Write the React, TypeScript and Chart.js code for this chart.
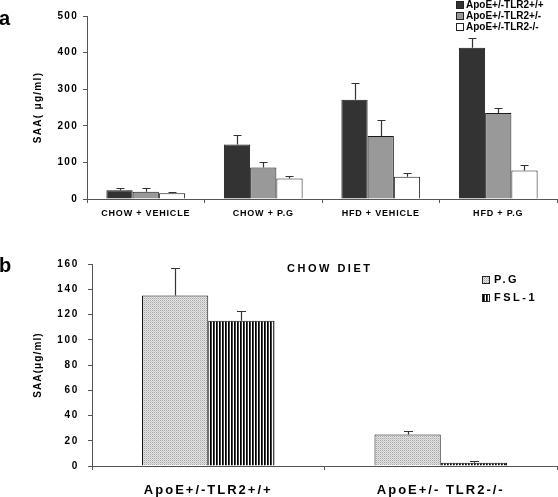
import { useEffect, useRef } from 'react';
import { Chart, registerables } from 'chart.js';

Chart.register(...registerables);

// ---------- Panel a data ----------
const conditionsA = ['CHOW + VEHICLE', 'CHOW + P.G', 'HFD + VEHICLE', 'HFD + P.G'];
const genotypeLabelsA = ['ApoE+/-TLR2+/+', 'ApoE+/-TLR2+/-', 'ApoE+/-TLR2-/-'];
const saaWildType = [24, 149, 271, 413];
const saaWildTypeErr = [7, 25, 45, 26];
const saaHet = [20, 86, 172, 235];
const saaHetErr = [9, 14, 43, 13];
const saaKnockout = [16, 56, 61, 78];
const saaKnockoutErr = [4, 7, 9, 14];
const yMaxA = 500;
const yStepA = 100;

// ---------- Panel b data ----------
const genotypesB = ['ApoE+/-TLR2+/+', 'ApoE+/- TLR2-/-'];
const treatmentLabelsB = ['P.G', 'FSL-1'];
const saaPG = [135, 25];
const saaPGErr = [22, 3];
const saaFSL = [115, 2.5];
const saaFSLErr = [8, 1.5];
const yMaxB = 160;
const yStepB = 20;

const FONT = "'Liberation Sans', Arial, sans-serif";

function makeDotPattern(): CanvasPattern | string {
  const c = document.createElement('canvas');
  c.width = 2;
  c.height = 2;
  const g = c.getContext('2d');
  if (!g) return '#c4c4c4';
  g.fillStyle = '#e4e4e4';
  g.fillRect(0, 0, 2, 2);
  g.fillStyle = '#a8a8a8';
  g.fillRect(0, 0, 1, 1);
  g.fillStyle = '#c8c8c8';
  g.fillRect(1, 1, 1, 1);
  return g.createPattern(c, 'repeat') || '#c4c4c4';
}

function makeStripePattern(): CanvasPattern | string {
  const c = document.createElement('canvas');
  c.width = 3;
  c.height = 3;
  const g = c.getContext('2d');
  if (!g) return '#555';
  g.fillStyle = '#ffffff';
  g.fillRect(0, 0, 3, 3);
  g.fillStyle = '#000000';
  g.fillRect(0, 0, 1, 3);
  g.fillStyle = '#444444';
  g.fillRect(1, 0, 1, 3);
  return g.createPattern(c, 'repeat') || '#555';
}

// Patch scale label/title drawing to apply letter spacing
const spacingPlugin = {
  id: 'spacing',
  beforeDraw(chart: any, _args: any, opts: any) {
    Object.values(chart.scales).forEach((scale: any) => {
      if (scale.__spaced) return;
      scale.__spaced = true;
      const cfg = (opts && opts[scale.id]) || {};
      const tickSp = cfg.tickSpacing || '0px';
      const titleSp = cfg.titleSpacing || '0px';
      const origLabels = scale.drawLabels.bind(scale);
      const origTitle = scale.drawTitle.bind(scale);
      scale.drawLabels = (area: any) => {
        const ctx = scale.ctx;
        ctx.save();
        ctx.letterSpacing = tickSp;
        origLabels(area);
        ctx.restore();
      };
      scale.drawTitle = (area: any) => {
        const ctx = scale.ctx;
        ctx.save();
        ctx.letterSpacing = titleSp;
        origTitle(area);
        ctx.restore();
      };
    });
  },
};

// Upper error bars from dataset "errors"
const errorBarPlugin = {
  id: 'errorBars',
  afterDatasetsDraw(chart: any, _args: any, opts: any) {
    const ctx = chart.ctx;
    const yScale = chart.scales.y;
    ctx.save();
    ctx.strokeStyle = opts.color || '#333';
    ctx.lineWidth = opts.lineWidth || 1;
    chart.data.datasets.forEach((ds: any, di: number) => {
      const meta = chart.getDatasetMeta(di);
      meta.data.forEach((bar: any, i: number) => {
        const v = ds.data[i];
        const e = ds.errors ? ds.errors[i] : 0;
        if (!e) return;
        const yTop = yScale.getPixelForValue(v + e);
        const x = Math.round(bar.x) + 0.5;
        const half = opts.capHalf || 4;
        ctx.beginPath();
        ctx.moveTo(x, bar.y);
        ctx.lineTo(x, Math.round(yTop) + 0.5);
        ctx.moveTo(x - half, Math.round(yTop) + 0.5);
        ctx.lineTo(x + half, Math.round(yTop) + 0.5);
        ctx.stroke();
      });
    });
    ctx.restore();
  },
};

// Simple legend drawn from the datasets
const miniLegendPlugin = {
  id: 'miniLegend',
  afterDraw(chart: any, _args: any, opts: any) {
    const ctx = chart.ctx;
    ctx.save();
    ctx.font = opts.font;
    ctx.letterSpacing = opts.spacing || '0px';
    ctx.textBaseline = 'middle';
    ctx.textAlign = 'left';
    chart.data.datasets.forEach((ds: any, i: number) => {
      const cy = opts.y + i * opts.rowGap;
      const bx = opts.x;
      const by = Math.round(cy - opts.box / 2) + 0.5;
      ctx.fillStyle = ds.backgroundColor;
      ctx.fillRect(bx + 0.5, by, opts.box, opts.box);
      ctx.strokeStyle = '#222';
      ctx.lineWidth = 1;
      ctx.strokeRect(bx + 0.5, by, opts.box, opts.box);
      ctx.fillStyle = '#000';
      ctx.fillText(ds.label, opts.textX, cy + 0.5);
    });
    ctx.restore();
  },
};

function PanelA() {
  const ref = useRef<HTMLCanvasElement>(null);
  useEffect(() => {
    if (!ref.current) return;
    const errs = [saaWildTypeErr, saaHetErr, saaKnockoutErr];
    const vals = [saaWildType, saaHet, saaKnockout];
    const fills = ['#333333', '#999999', '#ffffff'];
    const chart = new Chart(ref.current, {
      type: 'bar',
      data: {
        labels: conditionsA,
        datasets: genotypeLabelsA.map((label, i) => ({
          label,
          data: vals[i],
          errors: errs[i],
          backgroundColor: fills[i],
          borderColor: '#1a1a1a',
          borderWidth: 1,
          categoryPercentage: 0.67,
          barPercentage: 1,
        })) as any,
      },
      options: {
        animation: false,
        responsive: false,
        events: [],
        layout: { padding: { top: 16, right: 1, left: 0, bottom: 0 } },
        plugins: {
          legend: { display: false },
          tooltip: { enabled: false },
          spacing: {
            x: { tickSpacing: '0.8px' },
            y: { tickSpacing: '1.3px', titleSpacing: '1.3px' },
          },
          errorBars: { color: '#333', lineWidth: 1.2, capHalf: 4 },
          miniLegend: {
            x: 456,
            y: 4.5,
            rowGap: 11,
            box: 7,
            textX: 466,
            font: `bold 10px ${FONT}`,
            spacing: '0px',
          },
        } as any,
        scales: {
          x: {
            grid: {
              display: true,
              drawOnChartArea: false,
              offset: true,
              tickLength: 4,
              color: '#555',
            },
            border: { color: '#555', width: 1 },
            ticks: {
              font: { family: FONT, size: 9, weight: 'bold' },
              color: '#000',
              padding: 5,
              maxRotation: 0,
              autoSkip: false,
            },
            afterFit: (s: any) => {
              s.height = 33;
            },
          },
          y: {
            min: 0,
            max: yMaxA,
            grid: { display: true, drawOnChartArea: false, tickLength: 4, color: '#555' },
            border: { color: '#555', width: 1 },
            ticks: {
              stepSize: yStepA,
              font: { family: FONT, size: 10, weight: 'bold' },
              color: '#000',
              padding: 5,
            },
            title: {
              display: true,
              text: 'SAA( μg/ml)',
              font: { family: FONT, size: 10, weight: 'bold' },
              color: '#000',
              padding: { top: 32, bottom: 0 },
            },
            afterFit: (s: any) => {
              s.width = 87;
            },
          },
        },
      } as any,
      plugins: [spacingPlugin, errorBarPlugin, miniLegendPlugin],
    });
    return () => chart.destroy();
  }, []);
  return (
    <canvas
      ref={ref}
      width={558}
      height={232}
      style={{ position: 'absolute', left: 0, top: 0, width: 558, height: 232 }}
    />
  );
}

function PanelB() {
  const ref = useRef<HTMLCanvasElement>(null);
  useEffect(() => {
    if (!ref.current) return;
    const errs = [saaPGErr, saaFSLErr];
    const vals = [saaPG, saaFSL];
    const fills = [makeDotPattern(), makeStripePattern()];
    const chart = new Chart(ref.current, {
      type: 'bar',
      data: {
        labels: genotypesB,
        datasets: treatmentLabelsB.map((label, i) => ({
          label,
          data: vals[i],
          errors: errs[i],
          backgroundColor: fills[i],
          borderColor: '#111',
          borderWidth: 1,
          categoryPercentage: 0.57,
          barPercentage: 1,
        })) as any,
      },
      options: {
        animation: false,
        responsive: false,
        events: [],
        layout: { padding: { top: 32, right: 1, left: 0, bottom: 0 } },
        plugins: {
          legend: { display: false },
          tooltip: { enabled: false },
          spacing: {
            x: { tickSpacing: '2px' },
            y: { tickSpacing: '1.7px', titleSpacing: '1.1px' },
          },
          errorBars: { color: '#333', lineWidth: 1.2, capHalf: 4.5 },
          miniLegend: {
            x: 482,
            y: 47,
            rowGap: 18,
            box: 7,
            textX: 494,
            font: `bold 11px ${FONT}`,
            spacing: '2.5px',
          },
        } as any,
        scales: {
          x: {
            grid: {
              display: true,
              drawOnChartArea: false,
              offset: true,
              tickLength: 4,
              color: '#555',
            },
            border: { color: '#555', width: 1 },
            ticks: {
              font: { family: FONT, size: 13, weight: 'bold' },
              color: '#000',
              padding: 13,
              maxRotation: 0,
              autoSkip: false,
            },
            afterFit: (s: any) => {
              s.height = 31;
            },
          },
          y: {
            min: 0,
            max: yMaxB,
            grid: { display: true, drawOnChartArea: false, tickLength: 4, color: '#555' },
            border: { color: '#555', width: 1 },
            ticks: {
              stepSize: yStepB,
              font: { family: FONT, size: 10, weight: 'bold' },
              color: '#000',
              padding: 9,
            },
            title: {
              display: true,
              text: 'SAA(μg/ml)',
              font: { family: FONT, size: 10, weight: 'bold' },
              color: '#000',
              padding: { top: 32, bottom: 0 },
            },
            afterFit: (s: any) => {
              s.width = 92;
            },
          },
        },
      } as any,
      plugins: [spacingPlugin, errorBarPlugin, miniLegendPlugin],
    });
    return () => chart.destroy();
  }, []);
  return (
    <canvas
      ref={ref}
      width={558}
      height={265}
      style={{ position: 'absolute', left: 0, top: 232, width: 558, height: 265 }}
    />
  );
}

const overlayText: React.CSSProperties = {
  position: 'absolute',
  fontFamily: FONT,
  fontWeight: 'bold',
  lineHeight: 1,
  whiteSpace: 'nowrap',
  color: '#000',
};

export default function App() {
  return (
    <div
      style={{
        position: 'absolute',
        left: 0,
        top: 0,
        width: 558,
        height: 497,
        background: '#fff',
        overflow: 'hidden',
      }}
    >
      <PanelA />
      <PanelB />
      <div style={{ ...overlayText, left: -1, top: 8, fontSize: 20 }}>a</div>
      <div style={{ ...overlayText, left: -1, top: 255, fontSize: 20 }}>b</div>
      <div style={{ ...overlayText, left: 287, top: 263, fontSize: 11, letterSpacing: '2.5px' }}>
        CHOW DIET
      </div>
    </div>
  );
}
